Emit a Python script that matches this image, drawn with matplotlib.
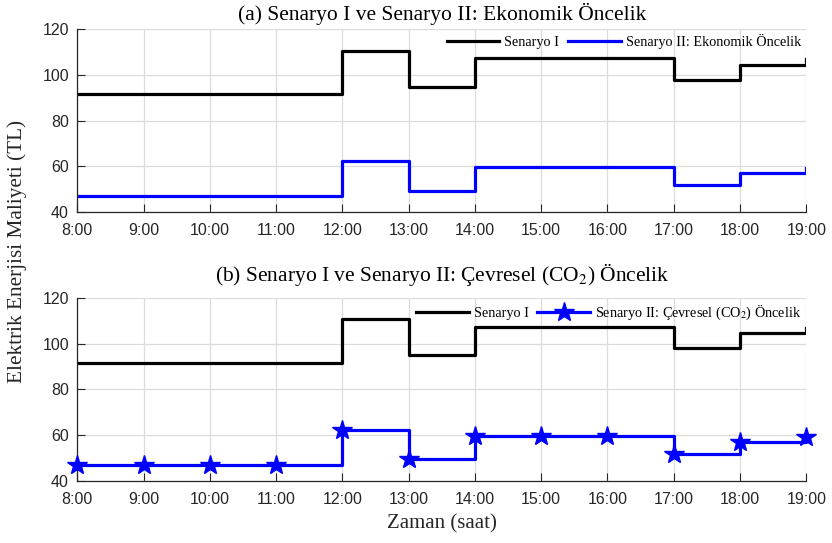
import matplotlib
matplotlib.use("Agg")
import matplotlib.pyplot as plt

hours = [8, 9, 10, 11, 12, 13, 14, 15, 16, 17, 18, 19]
hour_labels = ["8:00", "9:00", "10:00", "11:00", "12:00", "13:00",
               "14:00", "15:00", "16:00", "17:00", "18:00", "19:00"]
senaryo1 = [91.5, 91.5, 91.5, 91.5, 110.5, 94.8, 107.4, 107.4, 107.4, 97.9, 104.4, 106.8]
senaryo2_eko = [46.8, 46.8, 46.8, 46.8, 62.3, 49.4, 59.6, 59.6, 59.6, 51.9, 57.2, 59.2]
senaryo2_co2 = [46.8, 46.8, 46.8, 46.8, 62.3, 49.4, 59.6, 59.6, 59.6, 51.9, 57.2, 59.2]
yticks = [40, 60, 80, 100, 120]

plt.rcParams['mathtext.fontset'] = 'stix'
SERIF = 'Liberation Serif'
SANS = 'Liberation Sans'
TXT = '#262626'

fig = plt.figure(figsize=(8.32, 5.43), dpi=100)
W, H = 832, 543
left = 77.3 / W
width = (806.3 - 77.3) / W
ax1 = fig.add_axes([left, 1 - 212 / H, width, (212 - 29.3) / H])
ax2 = fig.add_axes([left, 1 - 481 / H, width, (481 - 297.7) / H])

def style(ax):
    ax.set_xlim(8, 19)
    ax.set_ylim(40, 120)
    ax.set_xticks(hours)
    ax.set_xticklabels(hour_labels, fontfamily=SANS, fontsize=11.5, color=TXT)
    ax.set_yticks(yticks)
    ax.set_yticklabels([str(v) for v in yticks], fontfamily=SANS, fontsize=11.5, color=TXT)
    ax.grid(True, color='#dcdcdc', linewidth=0.9)
    ax.set_axisbelow(True)
    for s in ['top', 'right']:
        ax.spines[s].set_visible(False)
    for s in ['left', 'bottom']:
        ax.spines[s].set_color(TXT)
        ax.spines[s].set_linewidth(0.9)
    ax.tick_params(direction='in', length=5.5, width=0.8, color=TXT)
    ax.tick_params(axis='x', pad=8)
    ax.tick_params(axis='y', pad=6)

lw = 2.3
ax1.step(hours, senaryo1, where='post', color='black', lw=lw, label='Senaryo I')
ax1.step(hours, senaryo2_eko, where='post', color='#0000ff', lw=lw,
         label='Senaryo II: Ekonomik Öncelik')
style(ax1)

ax2.step(hours, senaryo1, where='post', color='black', lw=lw, label='Senaryo I')
ax2.step(hours, senaryo2_co2, where='post', color='#0000ff', lw=lw,
         marker='*', markersize=15, markerfacecolor='#0000ff', markeredgecolor='#0000ff',
         label='Senaryo II: Çevresel (CO$_2$) Öncelik', clip_on=False, zorder=5)
style(ax2)

for ax in (ax1, ax2):
    ax.legend(ncol=2, loc='upper right', bbox_to_anchor=(1.0, 1.0), frameon=False,
              prop={'family': SERIF, 'size': 10.25}, handlelength=3.7,
              handletextpad=0.35, columnspacing=0.63, borderaxespad=0.0,
              borderpad=0.35)

fig.text(442 / W, 1 - 20 / H, '(a) Senaryo I ve Senaryo II: Ekonomik Öncelik',
         ha='center', va='baseline', fontfamily=SERIF, fontsize=15.5, color='black')
fig.text(442 / W, 1 - 281 / H, '(b) Senaryo I ve Senaryo II: Çevresel (CO$_2$) Öncelik',
         ha='center', va='baseline', fontfamily=SERIF, fontsize=15.5, color='black')

fig.text(17.5 / W, 1 - 251.5 / H, 'Elektrik Enerjisi Maliyeti (TL)', rotation=90,
         ha='center', va='center', fontfamily=SERIF, fontsize=15.3, color=TXT)
fig.text(442 / W, 1 - 524 / H, 'Zaman (saat)', ha='center', va='center',
         fontfamily=SERIF, fontsize=15, color=TXT)

fig.savefig('out.png', dpi=100)
